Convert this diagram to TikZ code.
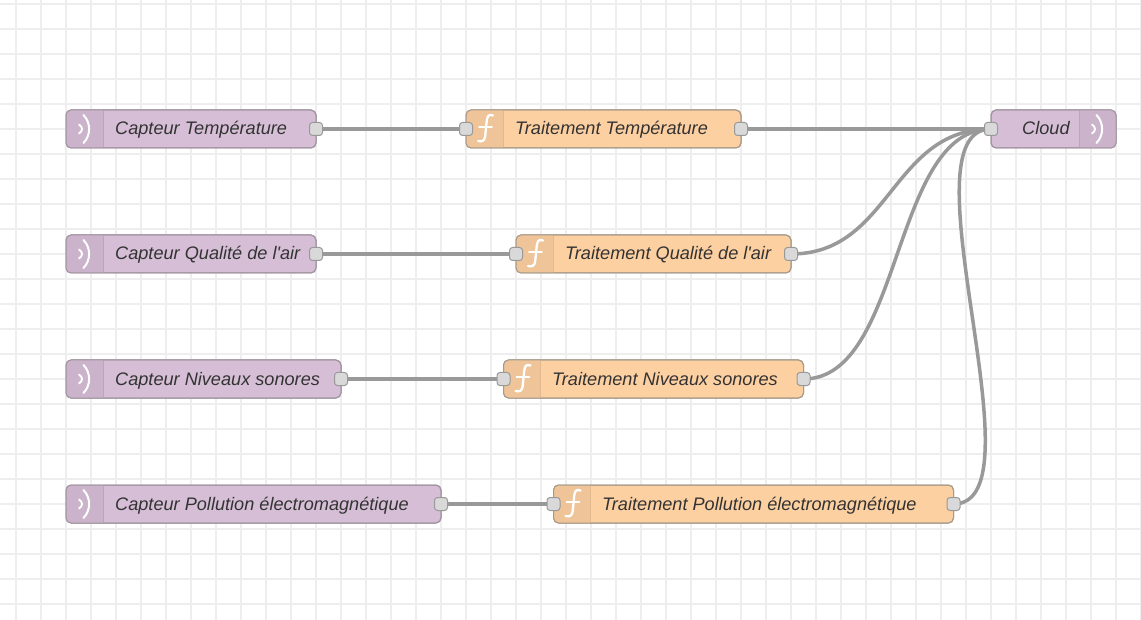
\documentclass[tikz,border=0pt]{standalone}
\usepackage{fontspec}
\setmainfont{Liberation Sans}[Ligatures=TeXOff]
\definecolor{gridc}{HTML}{EEEEEE}
\definecolor{wirec}{HTML}{999999}
\definecolor{edgec}{HTML}{A0949F}
\definecolor{edgeo}{HTML}{A69A8A}
\definecolor{sensorc}{HTML}{D6BFD6}
\definecolor{sensortab}{HTML}{CBB4CB}
\definecolor{sensorline}{HTML}{BCA6BC}
\definecolor{funcc}{HTML}{FDD0A2}
\definecolor{functab}{HTML}{EFC498}
\definecolor{funcline}{HTML}{E3B98E}
\definecolor{portc}{HTML}{D9D9D9}
\definecolor{textc}{HTML}{333333}
\tikzset{
  flownode/.style={rectangle,rounded corners=5pt,minimum height=38pt,inner sep=0pt,outer sep=0pt,anchor=west,line width=1pt},
  sensornode/.style={flownode,draw=edgec,fill=sensorc},
  funcnode/.style={flownode,draw=edgeo,fill=funcc},
  portnode/.style={rectangle,rounded corners=3pt,minimum width=13pt,minimum height=13pt,inner sep=0pt,outer sep=0pt,draw=wirec,fill=portc,line width=1pt},
  wirepath/.style={draw=wirec,line width=3.5pt},
  nodetext/.style={anchor=base west,inner sep=0pt,text=textc,font=\fontsize{18.15}{20}\selectfont\itshape},
  iconline/.style={draw=white,line width=2pt,line cap=round},
}
\newcommand{\sensoricon}[1]{%
  \draw[iconline,line width=1.9pt] (#1-5,-4.5) .. controls (#1-1,-2) and (#1-1,2) .. (#1-5,4.5);
  \draw[iconline] (#1-0.5,-14) .. controls (#1+7,-6) and (#1+7,6) .. (#1-0.5,14);
}
\newcommand{\functionicon}[1]{%
  \draw[iconline,line width=2.3pt] (#1+8,-13.5) .. controls (#1+3,-15.5) and (#1+2,-12) .. (#1+1.5,-6) -- (#1+0.2,7) .. controls (#1-0.3,12) and (#1-3,13) .. (#1-7,12);
  \draw[iconline,line width=1.8pt] (#1-6,-2) -- (#1+7,-2);
}
\begin{document}
\begin{tikzpicture}[x=1pt,y=-1pt]
\useasboundingbox (0,0) rectangle (1141,620);
\fill[white] (0,0) rectangle (1141,620);
\begin{scope}[draw=gridc,line width=2.2pt]
\foreach \gx in {16,41,...,1141} \draw (\gx,0) -- (\gx,620);
\foreach \gy in {4,29,...,620} \draw (0,\gy) -- (1141,\gy);
\end{scope}

% sensors
\node[sensornode,minimum width=250pt] (s1) at (66,129) {};
\node[sensornode,minimum width=250pt] (s2) at (66,254) {};
\node[sensornode,minimum width=275pt] (s3) at (66,379) {};
\node[sensornode,minimum width=375pt] (s4) at (66,504) {};
% functions
\node[funcnode,minimum width=275pt] (f1) at (466,129) {};
\node[funcnode,minimum width=275pt] (f2) at (516,254) {};
\node[funcnode,minimum width=300pt] (f3) at (503.5,379) {};
\node[funcnode,minimum width=400pt] (f4) at (553.5,504) {};
% cloud
\node[sensornode,minimum width=125pt] (cloud) at (991,129) {};

% icon tabs
\foreach \nm in {s1,s2,s3,s4}{
  \begin{scope}
    \clip[rounded corners=5pt] (\nm.south west) rectangle (\nm.north east);
    \fill[sensortab] (\nm.south west) rectangle ([xshift=37pt]\nm.north west);
    \draw[sensorline,line width=1pt] ([xshift=37pt]\nm.south west) -- ([xshift=37pt]\nm.north west);
  \end{scope}
  \draw[edgec,line width=1pt,rounded corners=5pt] (\nm.south west) rectangle (\nm.north east);
}
\foreach \nm in {f1,f2,f3,f4}{
  \begin{scope}
    \clip[rounded corners=5pt] (\nm.south west) rectangle (\nm.north east);
    \fill[functab] (\nm.south west) rectangle ([xshift=37pt]\nm.north west);
    \draw[funcline,line width=1pt] ([xshift=37pt]\nm.south west) -- ([xshift=37pt]\nm.north west);
  \end{scope}
  \draw[edgeo,line width=1pt,rounded corners=5pt] (\nm.south west) rectangle (\nm.north east);
}
\begin{scope}
  \clip[rounded corners=5pt] (cloud.south west) rectangle (cloud.north east);
  \fill[sensortab] ([xshift=-37pt]cloud.south east) rectangle (cloud.north east);
  \draw[sensorline,line width=1pt] ([xshift=-37pt]cloud.south east) -- ([xshift=-37pt]cloud.north east);
\end{scope}
\draw[edgec,line width=1pt,rounded corners=5pt] (cloud.south west) rectangle (cloud.north east);

% icons
\begin{scope}[shift={(0,129)}]\sensoricon{84}\end{scope}
\begin{scope}[shift={(0,254)}]\sensoricon{84}\end{scope}
\begin{scope}[shift={(0,379)}]\sensoricon{84}\end{scope}
\begin{scope}[shift={(0,504)}]\sensoricon{84}\end{scope}
\begin{scope}[shift={(0,129)}]\sensoricon{1097}\end{scope}
\begin{scope}[shift={(0,129)}]\functionicon{485}\end{scope}
\begin{scope}[shift={(0,254)}]\functionicon{535}\end{scope}
\begin{scope}[shift={(0,379)}]\functionicon{522.5}\end{scope}
\begin{scope}[shift={(0,504)}]\functionicon{572.5}\end{scope}

% labels
\node[nodetext] (ts1) at (115,135) {Capteur Température};
\node[nodetext] (ts2) at (115,260) {Capteur Qualité de l'air};
\node[nodetext] (ts3) at (115,385) {Capteur Niveaux sonores};
\node[nodetext] (ts4) at (115,510) {Capteur Pollution électromagnétique};
\node[nodetext] (tf1) at (515,135) {Traitement Température};
\node[nodetext] (tf2) at (565,260) {Traitement Qualité de l'air};
\node[nodetext] (tf3) at (552,385) {Traitement Niveaux sonores};
\node[nodetext] (tf4) at (602,510) {Traitement Pollution électromagnétique};
\node[nodetext] (tc) at (1022,135) {Cloud};

% ports positions
\coordinate (ps1o) at (s1.east); \coordinate (ps2o) at (s2.east);
\coordinate (ps3o) at (s3.east); \coordinate (ps4o) at (s4.east);
\coordinate (pf1i) at (f1.west); \coordinate (pf2i) at (f2.west);
\coordinate (pf3i) at (f3.west); \coordinate (pf4i) at (f4.west);
\coordinate (pf1o) at (f1.east); \coordinate (pf2o) at (f2.east);
\coordinate (pf3o) at (f3.east); \coordinate (pf4o) at (f4.east);
\coordinate (pci) at (cloud.west);

% wires
\draw[wirepath] (ps1o) -- (pf1i);
\draw[wirepath] (ps2o) -- (pf2i);
\draw[wirepath] (ps3o) -- (pf3i);
\draw[wirepath] (ps4o) -- (pf4i);
\draw[wirepath] (pf1o) -- (pci);
\draw[wirepath] (pf2o) .. controls ([xshift=100pt]pf2o) and ([xshift=-100pt]pci) .. (pci);
\draw[wirepath] (pf3o) .. controls ([xshift=100pt]pf3o) and ([xshift=-100pt]pci) .. (pci);
\draw[wirepath] (pf4o) .. controls ([xshift=92pt]pf4o) and ([xshift=-92pt]pci) .. (pci);

% ports
\foreach \pp in {ps1o,ps2o,ps3o,ps4o,pf1i,pf2i,pf3i,pf4i,pf1o,pf2o,pf3o,pf4o,pci}
  \node[portnode] at (\pp) {};
\end{tikzpicture}
\end{document}
